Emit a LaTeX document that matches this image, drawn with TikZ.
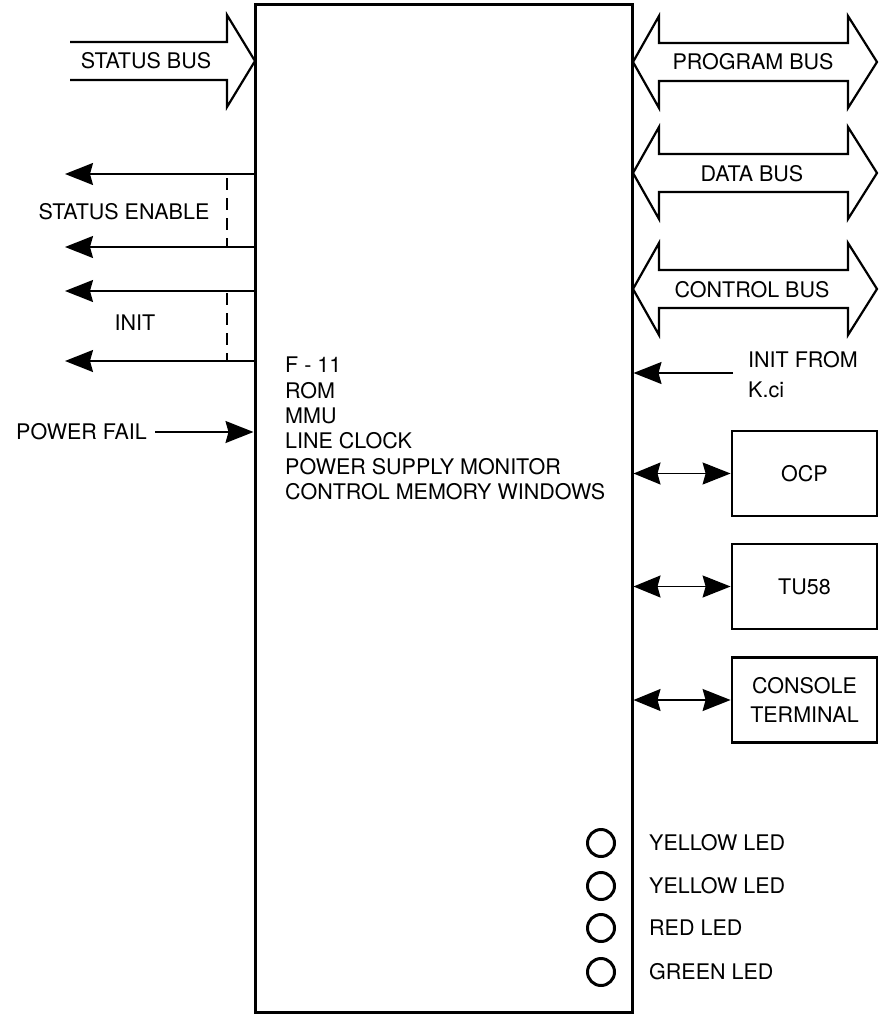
\documentclass[tikz,border=0pt]{standalone}
\usepackage{fontspec}
\setmainfont{TeX Gyre Heros}
\usetikzlibrary{arrows.meta,positioning}

\begin{document}
\begin{tikzpicture}[
  x=1pt, y=-1pt,
  txt/.style={font=\fontsize{21.5}{25.4}\selectfont, inner sep=0pt},
  cpubox/.style={draw, line width=3pt, minimum width=377pt, minimum height=1007pt, inner sep=0pt},
  dev/.style={draw, line width=2.8pt, minimum width=145pt, minimum height=85pt, align=center, font=\fontsize{21.5}{29}\selectfont},
  bus/.style={draw, line width=2.2pt, line join=miter},
  led/.style={draw, circle, line width=3pt, minimum size=27pt, inner sep=0pt},
  sig/.style={line width=1.6pt, -{Stealth[length=28pt, width=22pt, inset=3pt]}},
  bidir/.style={line width=1.6pt, {Stealth[length=27pt, width=22pt, inset=3pt]}-{Stealth[length=28pt, width=22pt, inset=3pt]}},
  grp/.style={line width=1.6pt, dash pattern=on 12pt off 8pt}
]
\useasboundingbox (0,0) rectangle (881,1014);

% main module
\node[cpubox] (cpu) at (443.5,508.5) {};
\node[txt, align=left, anchor=west] (cpuinfo) at (285,428.5)
  {F - 11\\ROM\\MMU\\LINE CLOCK\\POWER SUPPLY MONITOR\\CONTROL MEMORY WINDOWS};

% buses
\draw[bus] (70,42) -- (227,42) -- (227,15) -- (255,61) -- (227,107) -- (227,80) -- (70,80);
\node[txt] (sbus) at (146,61) {STATUS BUS};

\draw[bus] (633,62) -- (659,16) -- (659,43) -- (848,43) -- (848,16) -- (877,62)
  -- (848,108) -- (848,81) -- (659,81) -- (659,108) -- cycle;
\node[txt] (pbus) at (753,62) {PROGRAM BUS};

\draw[bus] (633,173) -- (659,127) -- (659,154) -- (848,154) -- (848,127) -- (877,173)
  -- (848,219) -- (848,192) -- (659,192) -- (659,219) -- cycle;
\node[txt] (dbus) at (752,174) {DATA BUS};

\draw[bus] (633,289) -- (659,243) -- (659,270) -- (848,270) -- (848,243) -- (877,289)
  -- (848,335) -- (848,308) -- (659,308) -- (659,335) -- cycle;
\node[txt] (cbus) at (752,290) {CONTROL BUS};

% status enable and init outputs
\coordinate (se1) at (65,174);
\coordinate (se2) at (65,247);
\coordinate (in1) at (65,291);
\coordinate (in2) at (65,361);
\draw[sig] (cpu.west |- se1) -- (se1);
\draw[sig] (cpu.west |- se2) -- (se2);
\draw[sig] (cpu.west |- in1) -- (in1);
\draw[sig] (cpu.west |- in2) -- (in2);
\draw[grp] (227,178) -- (227,246);
\draw[grp] (227,293) -- (227,360);
\node[txt] (selbl) at (124,212) {STATUS ENABLE};
\node[txt] (inlbl) at (135,323) {INIT};

% power fail
\node[txt, anchor=east] (pfail) at (147,432) {POWER FAIL};
\draw[sig] (pfail.east) ++(8,0) coordinate (pf0) -- (cpu.west |- pfail.east);

% init from K.ci
\node[txt, align=left, anchor=west, font=\fontsize{21.5}{30}\selectfont] (kci) at (748,375) {INIT FROM\\K.ci};
\coordinate (kc0) at (733,373);
\draw[sig] (kc0) -- (cpu.east |- kc0);

% peripherals
\node[dev] (ocp) at (804.5,473.5) {OCP};
\node[dev] (tu58) at (804.5,586.5) {TU58};
\node[dev] (cons) at (804.5,700) {CONSOLE\\TERMINAL};
\draw[bidir] (cpu.east |- ocp.west) -- (ocp.west);
\draw[bidir] (cpu.east |- tu58.west) -- (tu58.west);
\draw[bidir] (cpu.east |- cons.west) -- (cons.west);

% indicator lamps
\node[led] (led1) at (601,843) {};
\node[led] (led2) at (601,886) {};
\node[led] (led3) at (601,928) {};
\node[led] (led4) at (601,972) {};
\node[txt, anchor=west] (lbl1) at (649,843) {YELLOW LED};
\node[txt, anchor=west] (lbl2) at (649,886) {YELLOW LED};
\node[txt, anchor=west] (lbl3) at (649,928) {RED LED};
\node[txt, anchor=west] (lbl4) at (649,972) {GREEN LED};
\end{tikzpicture}
\end{document}
